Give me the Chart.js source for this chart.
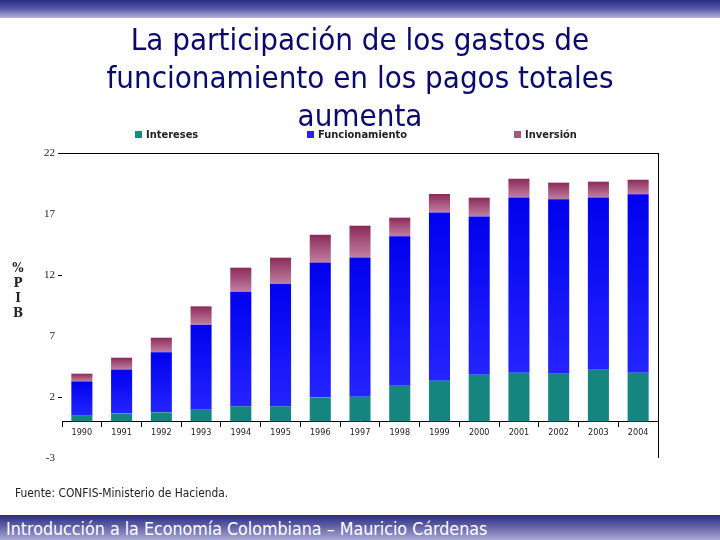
<!DOCTYPE html>
<html>
<head>
<meta charset="utf-8">
<script src="https://cdn.jsdelivr.net/npm/chart.js@4"></script>
<style>
  html,body{margin:0;padding:0;background:#fff;}
  #wrap{position:relative;width:720px;height:540px;overflow:hidden;background:#fff;font-family:"DejaVu Sans Condensed","DejaVu Sans",sans-serif;}
  #topband{position:absolute;left:0;top:0;width:720px;height:18px;background:linear-gradient(#2a2a86,#5a5aa8 50%,#b4b4dc);}
  #botband{position:absolute;left:0;top:515px;width:720px;height:25px;background:linear-gradient(#2c2c80,#6060a8 45%,#a8a8d4);}
  #botband span{position:absolute;left:6px;top:4px;color:#fff;font-size:17.7px;font-family:"DejaVu Sans Condensed","DejaVu Sans",sans-serif;white-space:nowrap;}
  #title{position:absolute;left:0;top:20px;width:720px;text-align:center;color:#0a0a6e;font-size:31px;line-height:38px;font-family:"DejaVu Sans Condensed","DejaVu Sans",sans-serif;}
  canvas{position:absolute;left:0;top:0;}
  .leg{position:absolute;top:128px;font-size:11px;font-weight:bold;color:#222;white-space:nowrap;font-family:"DejaVu Sans Condensed","DejaVu Sans",sans-serif;}
  .leg i{display:inline-block;width:7px;height:7px;margin-right:4px;vertical-align:0px;}
  #ytitle{position:absolute;left:10px;top:261px;width:16px;text-align:center;font-size:12px;font-weight:bold;line-height:15px;color:#222;font-family:"DejaVu Serif",serif;}
  #src{position:absolute;left:15px;top:486px;font-size:11.9px;color:#222;font-family:"DejaVu Sans Condensed","DejaVu Sans",sans-serif;}
</style>
</head>
<body>
<div id="wrap">
  <canvas id="c" width="720" height="540"></canvas>
  <div id="topband"></div>
  <div id="title">La participación de los gastos de<br>funcionamiento en los pagos totales<br>aumenta</div>
  <div class="leg" style="left:135px"><i style="background:#1a8a80"></i>Intereses</div>
  <div class="leg" style="left:307px"><i style="background:#2424ee"></i>Funcionamiento</div>
  <div class="leg" style="left:514px"><i style="background:#a05a80"></i>Inversión</div>
  <div id="ytitle">%<br>P<br>I<br>B</div>
  <div id="src">Fuente: CONFIS-Ministerio de Hacienda.</div>
  <div id="botband"><span>Introducción a la Economía Colombiana – Mauricio Cárdenas</span></div>
</div>
<script>
const years = ["1990","1991","1992","1993","1994","1995","1996","1997","1998","1999","2000","2001","2002","2003","2004"];
const intereses      = [0.52,0.66,0.74,0.96,1.23,1.23,1.97,2.02,2.93,3.34,3.83,3.99,3.91,4.24,3.99];
const funcionamiento = [2.76,3.60,4.92,6.97,9.40,10.06,11.06,11.42,12.24,13.79,12.97,14.37,14.29,14.12,14.62];
const inversion      = [0.63,0.96,1.20,1.50,1.97,2.13,2.27,2.60,1.53,1.51,1.54,1.53,1.37,1.29,1.20];
const yTicks = [-3,2,7,12,17,22];

const seriesList = [intereses, funcionamiento, inversion];
function segBounds(dsIndex, i){
  let start = 0;
  for(let k=0;k<dsIndex;k++) start += seriesList[k][i];
  return [start, start + seriesList[dsIndex][i]];
}
function gradFill(dsIndex, topColor, botColor, fallback){
  return (ctx) => {
    const chart = ctx.chart;
    if(!chart.chartArea || !chart.scales.y || ctx.dataIndex === undefined) return fallback;
    const [s,e] = segBounds(dsIndex, ctx.dataIndex);
    const y = chart.scales.y;
    const yt = y.getPixelForValue(e), yb = y.getPixelForValue(s);
    if(!isFinite(yt) || !isFinite(yb) || yt===yb) return fallback;
    const g = chart.ctx.createLinearGradient(0, yt, 0, yb);
    g.addColorStop(0, topColor);
    g.addColorStop(1, botColor);
    return g;
  };
}

const frame = {
  id:'frame',
  afterDraw(chart){
    const {ctx, chartArea} = chart;
    ctx.save();
    ctx.strokeStyle = '#000';
    ctx.lineWidth = 1;
    ctx.beginPath();
    ctx.moveTo(Math.round(chartArea.right)+0.5, chartArea.top);
    ctx.lineTo(Math.round(chartArea.right)+0.5, chartArea.bottom);
    ctx.stroke();
    ctx.restore();
  }
};

new Chart(document.getElementById('c'), {
  type:'bar',
  data:{
    labels: years,
    datasets:[
      {label:'Intereses', data:intereses, backgroundColor:'#15857f', barPercentage:0.53, categoryPercentage:1},
      {label:'Funcionamiento', data:funcionamiento, backgroundColor:gradFill(1,'#0000ee','#2424ff','#1414f6'), barPercentage:0.53, categoryPercentage:1},
      {label:'Inversión', data:inversion, backgroundColor:gradFill(2,'#8c2a5a','#c080a2','#a85880'), barPercentage:0.53, categoryPercentage:1}
    ]
  },
  options:{
    responsive:false,
    animation:false,
    layout:{padding:{left:32,right:62,top:153,bottom:82}},
    plugins:{legend:{display:false}, tooltip:{enabled:false}},
    scales:{
      x:{
        stacked:true,
        position:{y:0},
        grid:{offset:true, drawOnChartArea:false, color:'#000', tickLength:5},
        border:{display:true, color:'#000', width:1},
        ticks:{autoSkip:false, maxRotation:0, padding:1, color:'#222', font:{family:'DejaVu Sans Condensed, DejaVu Sans', size:9}}
      },
      y:{
        stacked:true,
        min:-3, max:22,
        afterBuildTicks:(s)=>{ s.ticks = yTicks.map(v=>({value:v})); },
        afterFit:(s)=>{ s.width = 30; },
        border:{display:false},
        grid:{
          color:(c)=> (c.tick && c.tick.value===22) ? '#000' : 'rgba(0,0,0,0)',
          tickColor:(c)=> (c.tick && [22,12,2].includes(c.tick.value)) ? '#000' : 'rgba(0,0,0,0)',
          tickLength:4
        },
        ticks:{padding:3, color:'#222', font:{family:'Liberation Serif, DejaVu Serif, serif', size:11}}
      }
    }
  },
  plugins:[frame]
});
</script>
</body>
</html>
